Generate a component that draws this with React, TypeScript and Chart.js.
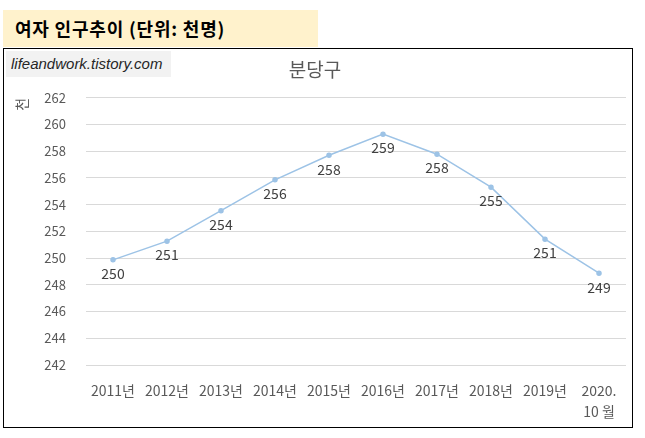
import React, { useEffect, useRef } from 'react';
import { Chart, registerables, ChartConfiguration, Plugin } from 'chart.js';

Chart.register(...registerables);

const years: (string | string[])[] = [
  '2011년', '2012년', '2013년', '2014년', '2015년',
  '2016년', '2017년', '2018년', '2019년', ['2020.', '10 월'],
];
const femalePopulation: number[] = [
  249.87, 251.27, 253.55, 255.86, 257.7, 259.28, 257.78, 255.31, 251.42, 248.87,
];
const yMin = 242;
const yMax = 262;
const yStep = 2;

const FONT = "'Noto Sans CJK KR', 'Noto Sans', sans-serif";

// values printed under each point
const pointLabels: Plugin<'line'> = {
  id: 'pointLabels',
  afterDatasetsDraw(chart) {
    const { ctx } = chart;
    const meta = chart.getDatasetMeta(0);
    ctx.save();
    ctx.font = `14px ${FONT}`;
    ctx.fillStyle = '#404040';
    ctx.textAlign = 'center';
    ctx.textBaseline = 'middle';
    meta.data.forEach((pt, i) => {
      ctx.fillText(String(Math.round(femalePopulation[i])), pt.x, pt.y + 14);
    });
    ctx.restore();
  },
};

const LineChart: React.FC = () => {
  const canvasRef = useRef<HTMLCanvasElement | null>(null);
  const chartRef = useRef<Chart | null>(null);

  useEffect(() => {
    if (!canvasRef.current) return;

    const config: ChartConfiguration<'line'> = {
      type: 'line',
      data: {
        labels: years,
        datasets: [
          {
            label: '분당구',
            data: femalePopulation,
            borderColor: '#9DC3E6',
            backgroundColor: '#9DC3E6',
            pointBackgroundColor: '#9DC3E6',
            pointBorderColor: '#9DC3E6',
            borderWidth: 1.5,
            pointRadius: 2,
            tension: 0,
          },
        ],
      },
      options: {
        animation: false,
        responsive: true,
        maintainAspectRatio: false,
        layout: { padding: { left: 0, right: 6, top: 0, bottom: 0 } },
        plugins: {
          legend: { display: false },
          tooltip: { enabled: false },
          title: {
            display: true,
            text: '분당구',
            color: '#595959',
            font: { family: FONT, size: 19, weight: 'normal' },
            padding: { top: 9, bottom: 17 },
          },
        },
        scales: {
          x: {
            offset: true,
            grid: { display: false },
            border: { display: false },
            ticks: {
              color: '#595959',
              font: { family: FONT, size: 14, lineHeight: 1.45 },
              maxRotation: 0,
              autoSkip: false,
              padding: 8,
            },
            afterFit(scale) {
              scale.height = 62;
            },
          },
          y: {
            min: yMin,
            max: yMax,
            grid: { color: '#D9D9D9', drawTicks: false },
            border: { display: false },
            ticks: {
              stepSize: yStep,
              color: '#595959',
              font: { family: FONT, size: 13 },
              padding: 20,
            },
            title: {
              display: true,
              text: '천',
              align: 'end',
              color: '#595959',
              font: { family: FONT, size: 14 },
              padding: { top: 9, bottom: 0 },
            },
            afterFit(scale) {
              scale.width = 82;
            },
          },
        },
      },
      plugins: [pointLabels],
    };

    chartRef.current?.destroy();
    chartRef.current = new Chart(canvasRef.current, config);

    return () => {
      chartRef.current?.destroy();
      chartRef.current = null;
    };
  }, []);

  return (
    <div style={{ position: 'absolute', left: 0, top: 0, width: 628, height: 378 }}>
      <canvas ref={canvasRef}></canvas>
    </div>
  );
};

export default function App() {
  useEffect(() => {
    document.body.style.margin = '0';
  }, []);

  return (
    <div style={{ position: 'relative', width: 645, height: 438, background: '#fff' }}>
      <div
        style={{
          position: 'absolute', left: 3, top: 10, width: 315, height: 37,
          background: '#FFF2CC', boxSizing: 'border-box', paddingLeft: 12,
          fontFamily: FONT, fontWeight: 'bold', fontSize: 18, letterSpacing: 0.8,
          lineHeight: '37px', color: '#000',
        }}
      >
        여자 인구추이 (단위: 천명)
      </div>
      <div
        style={{
          position: 'absolute', left: 3, top: 48, width: 630, height: 380,
          border: '1px solid #000', boxSizing: 'border-box', background: '#fff',
        }}
      >
        <LineChart />
        <div
          style={{
            position: 'absolute', left: 2, top: 2, width: 165, height: 26,
            background: '#F2F2F2', boxSizing: 'border-box', paddingLeft: 5,
            fontFamily: "'Liberation Sans', Arial, sans-serif", fontStyle: 'italic',
            fontSize: 15, lineHeight: '26px', color: '#262626',
          }}
        >
          lifeandwork.tistory.com
        </div>
      </div>
    </div>
  );
}
